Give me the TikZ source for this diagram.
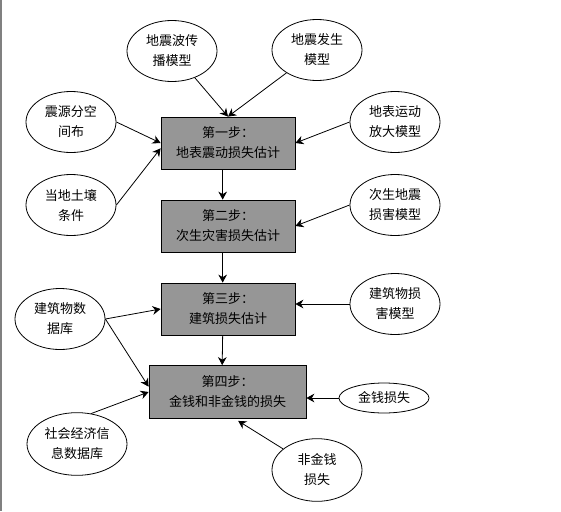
\documentclass[tikz,border=0pt]{standalone}
\usepackage{fontspec}
\setmainfont{Noto Sans CJK SC}
\usetikzlibrary{shapes.geometric,arrows.meta}
\definecolor{stepgray}{RGB}{150,150,150}

\begin{document}
\begin{tikzpicture}[
    x = 0.75pt, y = -0.75pt,
    line width = 0.6pt,
    every node/.style = {font=\fontsize{9.75}{15}\selectfont, align=center},
    stp/.style = {draw, fill=stepgray, rectangle, minimum width=100.5pt, minimum height=39pt, inner sep=0pt},
    mdl/.style = {draw, ellipse, minimum width=67.5pt, minimum height=45.75pt, inner sep=0pt},
    arr/.style = {draw, -{Stealth[length=6pt,width=6.5pt]}},
  ]
  \useasboundingbox (0,0) rectangle (561,511);
  \draw[gray, line width=1.5pt] (1,0) -- (1,511);

  \node[stp] (s1) at (228,143) {第一步：\\地表震动损失估计};
  \node[stp] (s2) at (228,226) {第二步：\\次生灾害损失估计};
  \node[stp] (s3) at (228,309) {第三步：\\建筑损失估计};
  \node[stp, minimum width=117.75pt, minimum height=39.75pt] (s4) at (227.5,392) {第四步：\\金钱和非金钱的损失};

  \node[mdl] (wave) at (172,51) {地震波传\\播模型};
  \node[mdl] (gen) at (317,50) {地震发生\\模型};
  \node[mdl] (src) at (71,122) {震源分空\\间布};
  \node[mdl] (amp) at (395,122) {地表运动\\放大模型};
  \node[mdl] (soil) at (71,205) {当地土壤\\条件};
  \node[mdl] (sec) at (395,205) {次生地震\\损害模型};
  \node[mdl] (bdb) at (60,319) {建筑物数\\据库};
  \node[mdl] (bdm) at (395,304) {建筑物损\\害模型};
  \node[mdl, minimum width=75pt, minimum height=47pt] (soc) at (77,444) {社会经济信\\息数据库};
  \node[mdl, minimum height=22.5pt] (mon) at (384,398) {金钱损失};
  \node[mdl, minimum height=47pt] (nmon) at (317,470) {非金钱\\损失};

  \draw[arr] (wave) -- (s1.north);
  \draw[arr] (gen) -- (s1.north);
  \draw[arr] (src.east) -- (s1.west);
  \draw[arr] (soil.east) -- ([yshift=-4pt]s1.west);
  \draw[arr] (amp.west) -- (s1.east);
  \draw[arr] (sec.west) -- (s2.east);
  \draw[arr] (bdm.west) -- (bdm.west -| s3.east);
  \draw[arr] (bdb.east) -- (s3.west);
  \draw[arr] (bdb.east) -- ([yshift=4pt]s4.west);
  \draw[arr] (soc.65) -- (s4.west);
  \draw[arr] (mon.west) -- (mon.west -| s4.east);
  \draw[arr] (nmon) -- ([xshift=8pt,yshift=-1.5pt]s4.south);
  \foreach \a/\b in {s1/s2, s2/s3, s3/s4}
    \draw[arr] ([xshift=-4pt]\a.south) -- ([xshift=-4pt]\b.north);
\end{tikzpicture}
\end{document}
